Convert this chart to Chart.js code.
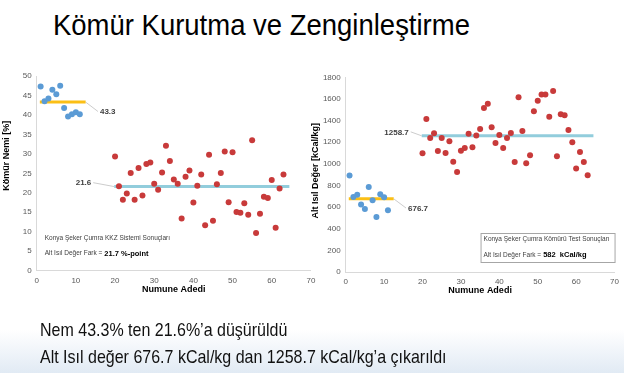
<!DOCTYPE html>
<html>
<head>
<meta charset="utf-8">
<script src="https://cdn.jsdelivr.net/npm/chart.js@4.4.0/dist/chart.umd.min.js"></script>
<style>
  html, body { margin: 0; padding: 0; }
  body {
    width: 624px; height: 373px; overflow: hidden; position: relative;
    background: linear-gradient(to bottom, #fff 0, #fff 330px, #e1eaf4 373px);
    font-family: "Liberation Sans", Arial, sans-serif;
  }
  canvas { position: absolute; left: 0; top: 0; }
  .title {
    position: absolute; left: 53px; top: 9.6px; font-size: 30px; line-height: 30px;
    white-space: nowrap; transform: scaleX(0.916); transform-origin: 0 0; color: #000;
  }
  .notes {
    position: absolute; left: 40px; top: 316px; font-size: 18.5px; line-height: 27px;
    white-space: nowrap; transform: scaleX(0.865); transform-origin: 0 0; color: #111;
  }
</style>
</head>
<body>
<div class="title">Kömür Kurutma ve Zenginleştirme</div>
<canvas id="nemChart" width="624" height="373"></canvas>
<canvas id="isilChart" width="624" height="373"></canvas>
<div class="notes">Nem 43.3% ten 21.6%’a düşürüldü<br>Alt Isıl değer 676.7 kCal/kg dan 1258.7 kCal/kg’a çıkarıldı</div>
<script>
// sample numbers (Numune Adedi)
const samplesBefore = [1, 2, 3, 4, 5, 6, 7, 8, 9, 10, 11];
const samplesAfter = [20, 21, 22, 23, 24, 25, 26, 27, 28, 29, 30, 31, 32, 33, 34, 35, 36, 37, 38, 39, 40, 41,
  42, 43, 44, 45, 46, 47, 48, 49, 50, 51, 52, 53, 54, 55, 56, 57, 58, 59, 60, 61, 62, 63];

// Kömür Nemi [%]
const moistureBefore = [47.3, 43.5, 44.2, 46.5, 45.3, 47.5, 41.8, 39.6, 40.2, 40.7, 40.2];
const moistureAfter = [29.3, 21.7, 18.2, 19.8, 25.1, 18.2, 26.4, 19.3, 27.4, 27.8, 22.3, 20.8, 25.2, 32.1,
  28.2, 23.4, 22.3, 13.4, 24.1, 25.7, 17.5, 21.8, 24.7, 11.7, 29.8, 12.8, 22.2, 25.1, 30.6, 17.6, 30.4,
  15.1, 14.9, 17.3, 14.4, 33.5, 9.7, 14.6, 19.0, 18.7, 23.3, 11.0, 21.1, 24.7];

// Alt Isıl Değer [kCal/kg]
const heatBefore = [891, 694, 715, 623, 582, 786, 663, 509, 718, 690, 570];
const heatAfter = [1097, 1415, 1239, 1282, 1119, 1239, 1100, 1208, 1020, 925, 1122, 1147, 1279, 1153,
  1261, 1322, 1516, 1556, 1338, 1193, 1267, 1147, 1239, 1285, 1017, 1615, 1304, 1005, 1079, 1486, 1584,
  1640, 1640, 1436, 1673, 1070, 1458, 1449, 1313, 1199, 958, 1110, 1017, 894];

// averages and the sample range each average line covers
const moistureMeans = [43.3, 21.6];
const heatMeans = [676.7, 1258.7];
const spanBefore = [0.8, 12.5];
const spanAfter = [19.8, 64.5];

const FONT = '"Liberation Sans", Arial, sans-serif';
Chart.defaults.font.family = FONT;

const toPoints = (xs, ys) => xs.map((x, i) => ({ x: x, y: ys[i] }));
const meanLine = (span, v) => span.map(x => ({ x: x, y: v }));

// axis titles, average labels and the note text
const slideText = {
  id: "slideText",
  afterDraw(chart, args, opts) {
    const { ctx, chartArea: a } = chart;
    const sx = chart.scales.x, sy = chart.scales.y;
    ctx.save();
    ctx.fillStyle = "#000";
    ctx.font = "bold 9px " + FONT;
    ctx.textAlign = "center";
    ctx.textBaseline = "middle";
    ctx.fillText(opts.xTitle, (a.left + a.right) / 2, a.bottom + 19);
    ctx.save();
    ctx.translate(a.left - 30, a.top + opts.yTitlePos * (a.bottom - a.top));
    ctx.rotate(-Math.PI / 2);
    ctx.fillText(opts.yTitle, 0, 0);
    ctx.restore();

    opts.labels.forEach(l => {
      const px = sx.getPixelForValue(l.x), py = sy.getPixelForValue(l.y);
      ctx.strokeStyle = "#bfbfbf";
      ctx.lineWidth = 0.8;
      ctx.beginPath();
      ctx.moveTo(px, py);
      ctx.lineTo(px + l.dx, py + l.dy);
      ctx.stroke();
      ctx.fillStyle = "#404040";
      ctx.font = "bold 8px " + FONT;
      ctx.textAlign = l.dx > 0 ? "left" : "right";
      ctx.fillText(l.text, px + l.dx + (l.dx > 0 ? 2 : -2), py + l.dy + 0.5);
    });

    const n = opts.note;
    const left = n.boxed ? a.right - 134 : a.left + 8;
    const top = a.bottom - 39;
    if (n.boxed) {
      ctx.strokeStyle = "#a6a6a6";
      ctx.lineWidth = 1;
      ctx.strokeRect(left + 0.5, top + 0.5, 134, 29);
    }
    const tx = n.boxed ? left + 3 : left;
    ctx.textAlign = "left";
    ctx.fillStyle = "#404040";
    ctx.font = "6.5px " + FONT;
    ctx.fillText(n.line1, tx, top + 6.5);
    ctx.fillText(n.line2, tx, top + 22);
    const w = ctx.measureText(n.line2).width;
    ctx.fillStyle = "#000";
    ctx.font = "bold 7.5px " + FONT;
    ctx.fillText(n.value, tx + w + 2, top + 22);
    ctx.restore();
  }
};

function makeChart(id, before, after, means, yMax, yStep, pad, yWidth, text) {
  return new Chart(document.getElementById(id), {
    type: "scatter",
    data: {
      datasets: [
        { data: toPoints(samplesBefore, before), backgroundColor: "#5b9bd5", borderWidth: 0, pointRadius: 3, order: 0 },
        { data: toPoints(samplesAfter, after), backgroundColor: "#c83a3a", borderWidth: 0, pointRadius: 3, order: 0 },
        { data: meanLine(spanBefore, means[0]), showLine: true, borderColor: "#fbbf16", borderWidth: 3,
          borderCapStyle: "butt", pointRadius: 0, order: 1 },
        { data: meanLine(spanAfter, means[1]), showLine: true, borderColor: "#92cddc", borderWidth: 3,
          borderCapStyle: "butt", pointRadius: 0, order: 1 },
      ],
    },
    options: {
      responsive: false,
      animation: false,
      events: [],
      layout: { padding: pad },
      plugins: {
        legend: { display: false },
        tooltip: { enabled: false },
        slideText: text,
      },
      scales: {
        x: {
          type: "linear",
          min: 0,
          max: 70,
          ticks: { stepSize: 10, color: "#595959", font: { size: 8 }, padding: 5, callback: v => String(v) },
          grid: { display: false, drawTicks: false },
          border: { color: "#d9d9d9" },
          afterFit: s => { s.height = 20; },
        },
        y: {
          min: 0,
          max: yMax,
          ticks: { stepSize: yStep, color: "#595959", font: { size: 8 }, padding: 5, callback: v => String(v) },
          grid: { display: false, drawTicks: false },
          border: { color: "#d9d9d9" },
          afterFit: s => { s.width = yWidth; },
        },
      },
    },
    plugins: [slideText],
  });
}

makeChart("nemChart", moistureBefore, moistureAfter, moistureMeans, 50, 5,
  { left: 6.7, right: 313.1, top: 76, bottom: 82.3 }, 30, {
    xTitle: "Numune Adedi",
    yTitle: "Kömür Nemi [%]",
    yTitlePos: 0.41,
    labels: [
      { text: "43.3", x: spanBefore[1], y: moistureMeans[0], dx: 12.3, dy: 9.4 },
      { text: "21.6", x: spanAfter[0], y: moistureMeans[1], dx: -21, dy: -3.9 },
    ],
    note: { boxed: false, line1: "Konya Şeker Çumra KKZ Sistemi Sonuçları",
      line2: "Alt Isıl Değer Fark =", value: "21.7 %-point" },
  });

makeChart("isilChart", heatBefore, heatAfter, heatMeans, 1800, 200,
  { left: 305.7, right: 5.7, top: 77.3, bottom: 81 }, 40, {
    xTitle: "Numune Adedi",
    yTitle: "Alt Isıl Değer [kCal/kg]",
    yTitlePos: 0.48,
    labels: [
      { text: "676.7", x: spanBefore[1], y: heatMeans[0], dx: 12.3, dy: 9.2 },
      { text: "1258.7", x: spanAfter[0], y: heatMeans[1], dx: -11, dy: -4 },
    ],
    note: { boxed: true, line1: "Konya Şeker Çumra Kömürü Test Sonuçları",
      line2: "Alt Isıl Değer Fark =", value: "582  kCal/kg" },
  });
</script>
</body>
</html>
